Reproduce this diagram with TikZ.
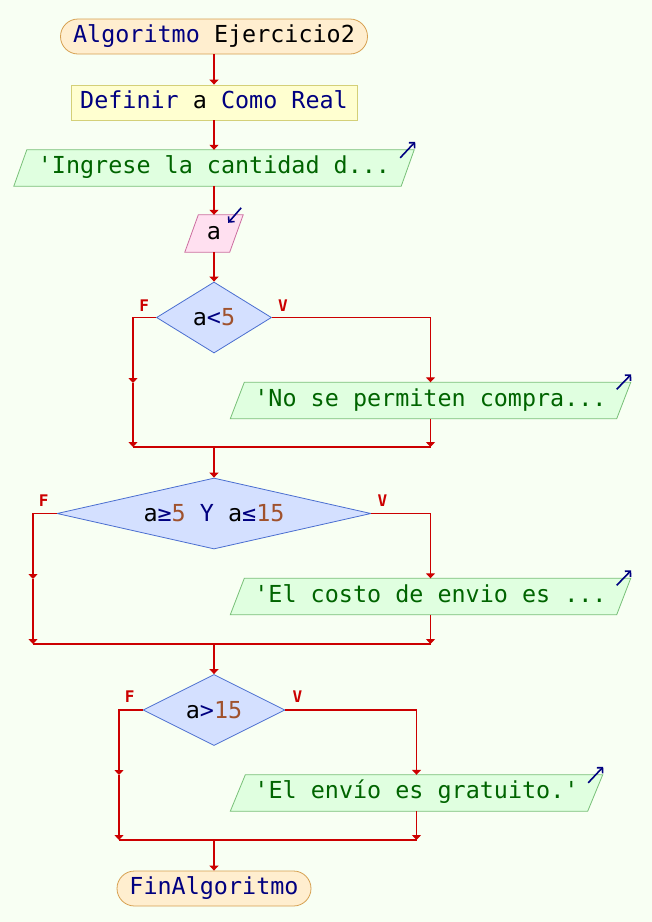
\documentclass[tikz,border=0pt]{standalone}
\usepackage{fontspec}
\setmonofont{DejaVu Sans Mono}
\usetikzlibrary{arrows.meta,shapes.geometric,calc,backgrounds}
\definecolor{bgc}{RGB}{248,255,243}
\definecolor{termfill}{RGB}{255,238,207}
\definecolor{termdraw}{RGB}{214,160,80}
\definecolor{deffill}{RGB}{255,255,208}
\definecolor{defdraw}{RGB}{212,208,120}
\definecolor{outfill}{RGB}{224,255,224}
\definecolor{outdraw}{RGB}{120,192,120}
\definecolor{outtext}{RGB}{0,100,0}
\definecolor{infill}{RGB}{255,224,240}
\definecolor{indraw}{RGB}{204,110,160}
\definecolor{diafill}{RGB}{212,224,255}
\definecolor{diadraw}{RGB}{74,110,208}
\definecolor{flowc}{RGB}{204,0,0}
\definecolor{navy}{RGB}{0,0,128}
\definecolor{numc}{RGB}{160,82,45}
\begin{document}
\begin{tikzpicture}[x=1pt,y=-1pt,
  every node/.style={font=\ttfamily\fontsize{23.4}{28}\selectfont},
  term/.style={rectangle, rounded corners=17.5pt, draw=termdraw, fill=termfill, line width=0.8pt,
    minimum height=35pt, inner sep=0pt, text height=1.2em, text depth=.05em, text=navy},
  defbox/.style={rectangle, draw=defdraw, fill=deffill, line width=0.8pt,
    minimum height=35pt, inner sep=0pt, text height=1.2em, text depth=.05em, text=navy},
  io/.style={rectangle, minimum height=36pt, inner sep=0pt, text height=1.2em, text depth=.05em},
  outbox/.style={io, text=outtext},
  inbox/.style={io, text=black},
  outpar/.style={draw=outdraw, fill=outfill, line width=0.8pt},
  inpar/.style={draw=indraw, fill=infill, line width=0.8pt},
  dec/.style={diamond, draw=diadraw, fill=diafill, line width=0.8pt, inner sep=0pt, minimum height=71pt},
  flow/.style={draw=flowc, line width=1.8pt, -{Triangle[length=5pt,width=9pt]}},
  plain/.style={draw=flowc, line width=1.8pt},
  lbl/.style={font=\ttfamily\bfseries\fontsize{16}{18}\selectfont, text=flowc, inner sep=0pt},
  icon/.style={draw=navy, line width=1.6pt, -{Straight Barb[length=4pt,width=8pt]}}
]
\useasboundingbox (0,0) rectangle (652,922);

% nodes
\node[term, minimum width=307pt] (start) at (214,36.5) {Algoritmo \textcolor{black}{Ejercicio2}};
\node[defbox, minimum width=286pt] (def) at (214,102.5) {Definir \textcolor{black}{a} Como Real};
\node[outbox, minimum width=387pt] (o1) at (214,168) {'Ingrese la cantidad d...};
\node[inbox, minimum width=44.5pt, minimum height=37pt] (in) at (214,233.5) {a};
\node[dec, minimum width=115pt] (d1) at (214,317.5)
  {\makebox[0pt]{\raisebox{-.36em}{\textcolor{black}{a}\textcolor{navy}{<}\textcolor{numc}{5}}}};
\node[outbox, minimum width=386pt] (o2) at (430.5,400.5) {'No se permiten compra...};
\node[dec, minimum width=314pt] (d2) at (214,513.5)
  {\makebox[0pt]{\raisebox{-.36em}{\textcolor{black}{a}\textcolor{navy}{≥}\textcolor{numc}{5}\textcolor{navy}{\ Y\ }\textcolor{black}{a}\textcolor{navy}{≤}\textcolor{numc}{15}}}};
\node[outbox, minimum width=386pt] (o3) at (430.5,596.5) {'El costo de envio es ...};
\node[dec, minimum width=142pt] (d3) at (214,710)
  {\makebox[0pt]{\raisebox{-.36em}{\textcolor{black}{a}\textcolor{navy}{>}\textcolor{numc}{15}}}};
\node[outbox, minimum width=357pt] (o4) at (416.5,793) {'El envío es gratuito.'};
\node[term, minimum width=194pt] (end) at (214,888.5) {FinAlgoritmo};

% parallelogram outlines, behind the texts
\begin{scope}[on background layer]
\fill[bgc] (0,0) rectangle (652,922);
\path[outpar] ([xshift=6.5pt]o1.north west) -- ([xshift=6.5pt]o1.north east)
  -- ([xshift=-6.5pt]o1.south east) -- ([xshift=-6.5pt]o1.south west) -- cycle;
\path[inpar] ([xshift=6.75pt]in.north west) -- ([xshift=6.75pt]in.north east)
  -- ([xshift=-6.75pt]in.south east) -- ([xshift=-6.75pt]in.south west) -- cycle;
\path[outpar] ([xshift=7pt]o2.north west) -- ([xshift=7pt]o2.north east)
  -- ([xshift=-7pt]o2.south east) -- ([xshift=-7pt]o2.south west) -- cycle;
\path[outpar] ([xshift=7pt]o3.north west) -- ([xshift=7pt]o3.north east)
  -- ([xshift=-7pt]o3.south east) -- ([xshift=-7pt]o3.south west) -- cycle;
\path[outpar] ([xshift=7.5pt]o4.north west) -- ([xshift=7.5pt]o4.north east)
  -- ([xshift=-7.5pt]o4.south east) -- ([xshift=-7.5pt]o4.south west) -- cycle;
\end{scope}

% labels
\node[lbl] (f1) at ([shift={(-12,-12)}]d1.west) {F};
\node[lbl] (v1) at ([shift={(11,-12)}]d1.east) {V};
\node[lbl] (f2) at ([shift={(-13,-13)}]d2.west) {F};
\node[lbl] (v2) at ([shift={(11,-13)}]d2.east) {V};
\node[lbl] (f3) at ([shift={(-13,-13)}]d3.west) {F};
\node[lbl] (v3) at ([shift={(12,-13)}]d3.east) {V};

% icons
\draw[icon] ([shift={(-7.5,8)}]o1.north east) -- ([shift={(7.5,-8)}]o1.north east);
\draw[icon] ([shift={(4.75,-7)}]in.north east) -- ([shift={(-8.25,8)}]in.north east);
\draw[icon] ([shift={(-7,7)}]o2.north east) -- ([shift={(7.5,-8)}]o2.north east);
\draw[icon] ([shift={(-7,7)}]o3.north east) -- ([shift={(7.5,-8)}]o3.north east);
\draw[icon] ([shift={(-7,8)}]o4.north east) -- ([shift={(8,-8)}]o4.north east);

% coordinates for branches
\coordinate (fa1) at (133,383);
\coordinate (jl1) at (133,447);
\coordinate (jr1) at (430.5,447);
\coordinate (jc1) at (214,447);
\coordinate (fa2) at (33,579);
\coordinate (jl2) at (33,644);
\coordinate (jr2) at (430.5,644);
\coordinate (jc2) at (214,644);
\coordinate (fa3) at (119,775);
\coordinate (jl3) at (119,840);
\coordinate (jr3) at (416.5,840);
\coordinate (jc3) at (214,840);

% connectors
\draw[flow] (start) -- (def);
\draw[flow] (def) -- (o1);
\draw[flow] (o1) -- (in);
\draw[flow] (in) -- (d1);

\draw[flow] (d1.west) -| (fa1);
\draw[flow] (fa1) -- (jl1);
\draw[flow] (d1.east) -| (o2.north);
\draw[flow] (o2.south) -- (jr1);
\draw[plain] (jl1) -- (jr1);
\draw[flow] (jc1) -- (d2.north);

\draw[flow] (d2.west) -| (fa2);
\draw[flow] (fa2) -- (jl2);
\draw[flow] (d2.east) -| (o3.north);
\draw[flow] (o3.south) -- (jr2);
\draw[plain] (jl2) -- (jr2);
\draw[flow] (jc2) -- (d3.north);

\draw[flow] (d3.west) -| (fa3);
\draw[flow] (fa3) -- (jl3);
\draw[flow] (d3.east) -| (o4.north);
\draw[flow] (o4.south) -- (jr3);
\draw[plain] (jl3) -- (jr3);
\draw[flow] (jc3) -- (end);
\end{tikzpicture}
\end{document}
